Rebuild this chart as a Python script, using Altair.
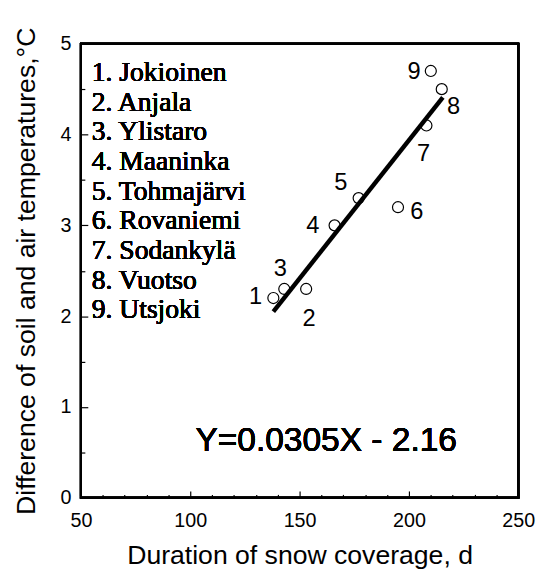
import altair as alt
import pandas as pd

# ---- data ----
station_no = [1, 2, 3, 4, 5, 6, 7, 8, 9]
station_name = ["Jokioinen", "Anjala", "Ylistaro", "Maaninka", "Tohmajärvi",
                "Rovaniemi", "Sodankylä", "Vuotso", "Utsjoki"]
snow_days = [138, 153, 143, 166, 177, 195, 208, 215, 210]
temp_diff = [2.2, 2.3, 2.3, 3.0, 3.3, 3.2, 4.1, 4.5, 4.7]

fit_x = [138, 215.5]
fit_y = [2.05, 4.41]
equation = "Y=0.0305X - 2.16"

x_major = [50, 100, 150, 200, 250]
x_minor = [60, 70, 80, 90, 110, 120, 130, 140, 160, 170, 180, 190,
           210, 220, 230, 240]
y_major = [0, 1, 2, 3, 4, 5]
y_minor = [0.5, 1.5, 2.5, 3.5, 4.5]

x_title = "Duration of snow coverage, d"
y_title = "Difference of soil and air temperatures,°C"

legend_lines = [f"{n}. {s}" for n, s in zip(station_no, station_name)]

# label offsets (styling, pixels)
label_offsets = {1: (-18, -1), 2: (3, 31), 3: (-4, -20), 4: (-22, 1),
                 5: (-18, -15), 6: (19, 5), 7: (-3, 29), 8: (12, 18),
                 9: (-17, 1)}

pts = pd.DataFrame({"no": station_no, "x": snow_days, "y": temp_diff})
fit = pd.DataFrame({"x": fit_x, "y": fit_y})

W, H = 444, 461
SANS = "Liberation Sans"
SERIF = "Liberation Serif"

xs = alt.Scale(domain=[50, 250], nice=False, zero=False)
ys = alt.Scale(domain=[0, 5], nice=False, zero=False)

common_axis = dict(domain=False, grid=False, tickColor="black", tickWidth=1.2)

x_axis_major = alt.Axis(values=x_major, tickSize=7, offset=-7, labelPadding=13,
                        labelFont=SANS, labelFontSize=20, labelColor="black",
                        labelFlush=False, title=x_title, titleFont=SANS,
                        titleFontSize=27, titleFontWeight="normal",
                        titleColor="black", titlePadding=13, orient="bottom",
                        **common_axis)
y_axis_major = alt.Axis(values=y_major, tickSize=7, offset=-7, labelPadding=10,
                        labelFont=SANS, labelFontSize=20, labelColor="black",
                        labelFlush=False, title=y_title, titleFont=SANS,
                        titleFontSize=27, titleFontWeight="normal",
                        titleColor="black", titlePadding=20, orient="left",
                        **common_axis)
x_axis_minor = alt.Axis(values=x_minor, tickSize=3.5, offset=-3.5, labels=False,
                        title="", orient="bottom", **common_axis)
y_axis_minor = alt.Axis(values=y_minor, tickSize=4, offset=-4, labels=False,
                        title="", orient="left", **common_axis)

frame = alt.Chart(pts).mark_rect(
    fillOpacity=0, stroke="black", strokeWidth=2
).encode(
    x=alt.value(0), x2=alt.value(W), y=alt.value(0), y2=alt.value(H)
)

points = alt.Chart(pts).mark_point(
    shape="circle", filled=False, size=125, stroke="black", strokeWidth=1.2,
    opacity=1
).encode(
    x=alt.X("x:Q", scale=xs, axis=x_axis_major),
    y=alt.Y("y:Q", scale=ys, axis=y_axis_major),
)

line = alt.Chart(fit).mark_line(color="black", strokeWidth=4.5).encode(
    x=alt.X("x:Q", scale=xs, axis=x_axis_minor),
    y=alt.Y("y:Q", scale=ys, axis=y_axis_minor),
)

labels = []
for n in station_no:
    dx, dy = label_offsets[n]
    labels.append(
        alt.Chart(pts).transform_filter(alt.datum.no == n).mark_text(
            font=SANS, fontSize=24, fontWeight="normal", color="black",
            align="center", baseline="middle", dx=dx, dy=dy
        ).encode(
            x=alt.X("x:Q", scale=xs, axis=None),
            y=alt.Y("y:Q", scale=ys, axis=None),
            text="no:N",
        )
    )

legend = alt.Chart(pts).mark_text(
    font=SERIF, fontSize=28, fontWeight="normal", color="black", align="left",
    baseline="alphabetic", lineHeight=30.1
).encode(
    x=alt.value(11), y=alt.value(38), text=alt.value(legend_lines)
)

eq = alt.Chart(pts).mark_text(
    font=SANS, fontSize=34, fontWeight="normal", color="black",
    align="center", baseline="alphabetic"
).encode(
    x=alt.value(249), y=alt.value(413), text=alt.value(equation)
)

chart = alt.layer(points, line, *labels, legend, eq, frame).resolve_axis(
    x="independent", y="independent"
).properties(
    width=W, height=H,
    autosize=alt.AutoSizeParams(type="none"),
    padding={"left": 74, "top": 32, "right": 19, "bottom": 70},
).configure(
    background="white",
    view=alt.ViewConfig(stroke="black", strokeWidth=2),
)

chart.save("out.html", embed_options={"renderer": "svg", "actions": False})
